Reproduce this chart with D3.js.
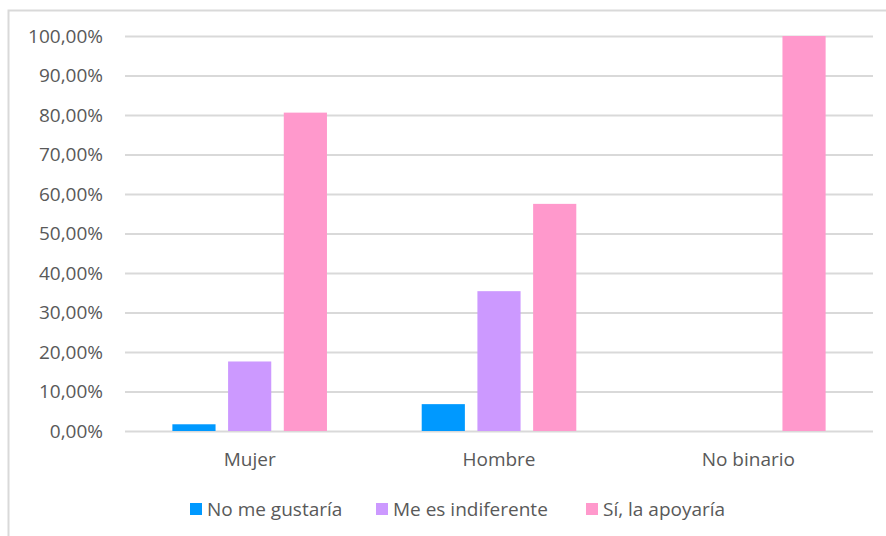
<!DOCTYPE html>
<html>
<head>
<meta charset="utf-8">
<script src="https://cdn.jsdelivr.net/npm/d3@7"></script>
<style>
  body { margin: 0; background: #fff; }
  svg { display: block; }
  text { font-family: "Open Sans", "Noto Sans", sans-serif; fill: #595959; }
</style>
</head>
<body>
<svg id="chart" width="886" height="536"></svg>
<script>
// categories and series
var categories = ["Mujer", "Hombre", "No binario"];
var seriesNames = ["No me gustaría", "Me es indiferente", "Sí, la apoyaría"];
var noMeGustaria = [1.7, 6.8, 0];
var meEsIndiferente = [17.6, 35.4, 0];
var siLaApoyaria = [80.6, 57.5, 100];
var yTicks = [0, 10, 20, 30, 40, 50, 60, 70, 80, 90, 100];
var colors = ["#0099ff", "#cc99ff", "#ff99cc"];

var values = [noMeGustaria, meEsIndiferente, siLaApoyaria];
var data = categories.map(function(c, i) {
  return { cat: c, vals: seriesNames.map(function(s, j) { return { key: s, value: values[j][i] }; }) };
});

var svg = d3.select("#chart"),
    margin = {top: 36, right: 13, bottom: 105, left: 125},
    width = 886 - margin.left - margin.right,
    height = 536 - margin.top - margin.bottom;

// outer frame (only top and left edges are visible in the crop)
svg.append("rect")
    .attr("x", 8.5).attr("y", 10.5)
    .attr("width", 900).attr("height", 600)
    .attr("fill", "none")
    .attr("stroke", "#d9d9d9")
    .attr("stroke-width", 2);

var g = svg.append("g").attr("transform", "translate(" + margin.left + "," + margin.top + ")");

var x0 = d3.scaleBand().domain(categories).range([0, width]).padding(0);
var x1 = d3.scaleBand().domain(seriesNames)
    .range([x0.bandwidth() * 0.19, x0.bandwidth() * 0.81])
    .paddingInner(0.225);
var y = d3.scaleLinear().domain([0, 100]).range([height, 0]);
var z = d3.scaleOrdinal().domain(seriesNames).range(colors);

var fmt = function(d) { return d3.format(".2f")(d).replace(".", ",") + "%"; };

// gridlines
g.append("g")
    .attr("class", "grid")
    .call(d3.axisLeft(y).tickValues(yTicks).tickSize(-width).tickFormat(""))
    .call(function(s) {
      s.select(".domain").remove();
      s.selectAll("line").attr("stroke", "#d9d9d9").attr("stroke-width", 2);
    });

// y labels
g.append("g")
    .call(d3.axisLeft(y).tickValues(yTicks).tickSize(0).tickPadding(22).tickFormat(fmt))
    .call(function(s) {
      s.select(".domain").remove();
      s.selectAll("text").style("font-size", "19px").attr("fill", "#595959")
        .style("font-family", "'Open Sans', sans-serif");
    });

// bars
g.selectAll(".group")
  .data(data)
  .enter().append("g")
    .attr("class", "group")
    .attr("transform", function(d) { return "translate(" + x0(d.cat) + ",0)"; })
  .selectAll("rect")
  .data(function(d) { return d.vals.filter(function(v) { return v.value > 0; }); })
  .enter().append("rect")
    .attr("x", function(d) { return x1(d.key); })
    .attr("y", function(d) { return y(d.value); })
    .attr("width", x1.bandwidth())
    .attr("height", function(d) { return y(0) - y(d.value); })
    .attr("fill", function(d) { return z(d.key); });

// x labels
g.append("g")
    .attr("transform", "translate(0," + height + ")")
    .call(d3.axisBottom(x0).tickSize(0).tickPadding(22))
    .call(function(s) {
      s.select(".domain").remove();
      s.selectAll("text").style("font-size", "19px").attr("fill", "#595959")
        .style("font-family", "'Open Sans', sans-serif");
    });

// legend
var legendX = [190, 376, 586];
var legend = svg.selectAll(".legend")
  .data(seriesNames)
  .enter().append("g")
    .attr("class", "legend")
    .attr("transform", function(d, i) { return "translate(" + legendX[i] + ",503)"; });

legend.append("rect")
    .attr("width", 12).attr("height", 12)
    .attr("fill", function(d) { return z(d); });

legend.append("text")
    .attr("x", 17).attr("y", 12.5)
    .style("font-size", "19px")
    .text(function(d) { return d; });
</script>
</body>
</html>
